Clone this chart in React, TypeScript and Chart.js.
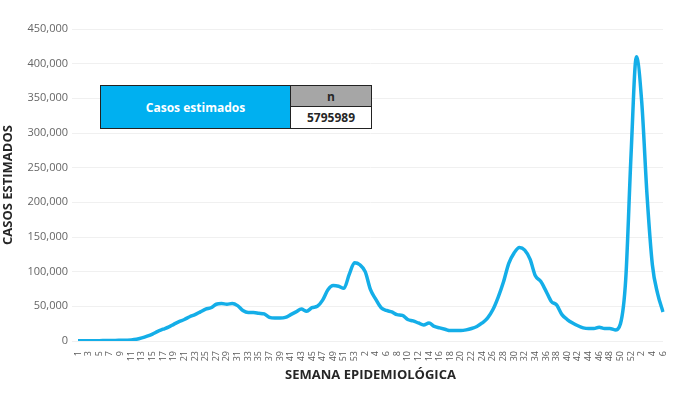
import React, { useEffect, useRef } from "react";
import { Chart, registerables } from "chart.js";

Chart.register(...registerables);

const weeks2020: string[] = Array.from({ length: 53 }, (_, i) => String(i + 1));
const weeks2021: string[] = Array.from({ length: 52 }, (_, i) => String(i + 1));
const weeks2022: string[] = ["1", "2", "3", "4", "5", "6"];
const weekLabels: string[] = [...weeks2020, ...weeks2021, ...weeks2022];

const cases2020: number[] = [
  500, 500, 500, 500, 500, 600, 700, 800, 1000, 1200,
  1500, 2500, 4500, 7000, 10000, 14000, 17000, 20000, 24000, 28000,
  31000, 35000, 38000, 42000, 46000, 48000, 53000, 54000, 53000, 54000,
  51000, 44000, 41000, 41000, 40000, 39000, 34000, 33000, 33000, 34000,
  38000, 42000, 46000, 43000, 48000, 50000, 59000, 74000, 80000, 79000,
  76000, 96000, 113000,
];
const cases2021: number[] = [
  110000, 100000, 74000, 60000, 48000, 44000, 42000, 38000, 37000, 31000,
  29000, 26000, 23000, 26000, 21000, 19000, 17000, 15000, 15000, 15000,
  16000, 18000, 21000, 26000, 33000, 45000, 63000, 85000, 112000, 127000,
  135000, 131000, 118000, 94000, 86000, 72000, 57000, 52000, 38000, 31000,
  26000, 22000, 19000, 18000, 18000, 20000, 18000, 18000, 16000, 25000,
  90000, 270000,
];
const cases2022: number[] = [410000, 345000, 210000, 110000, 68000, 42000];
const casesAll: number[] = [...cases2020, ...cases2021, ...cases2022];

const tableHeader = "Casos estimados";
const tableColHeader = "n";
const tableTotal = "5795989";

const FONT = "'Open Sans', sans-serif";

export default function App() {
  const canvasRef = useRef<HTMLCanvasElement | null>(null);

  useEffect(() => {
    document.body.style.margin = "0";
    const canvas = canvasRef.current;
    if (!canvas) return;
    const chart = new Chart(canvas, {
      type: "line",
      data: {
        labels: weekLabels,
        datasets: [
          {
            data: casesAll,
            borderColor: "#14AEE8",
            borderWidth: 3.5,
            pointRadius: 0,
            tension: 0.4,
            cubicInterpolationMode: "monotone",
            fill: false,
          },
        ],
      },
      options: {
        animation: false,
        responsive: false,
        maintainAspectRatio: false,
        layout: { padding: { left: 0, right: 37, top: 29, bottom: 24 } },
        plugins: { legend: { display: false }, tooltip: { enabled: false } },
        scales: {
          x: {
            grid: { display: false },
            border: { display: false },
            ticks: {
              autoSkip: false,
              maxRotation: 90,
              minRotation: 90,
              padding: 2,
              color: "#595959",
              font: { family: FONT, size: 9 },
              callback: (_v: any, i: number) => (i % 2 === 0 ? weekLabels[i] : ""),
            },
            title: {
              display: true,
              text: "SEMANA EPIDEMIOLÓGICA",
              color: "#262626",
              font: { family: FONT, size: 13, weight: "bold" },
              padding: { top: 0, bottom: 4 },
            },
            afterFit: (s: any) => {
              s.height = 46;
            },
          },
          y: {
            min: 0,
            max: 450000,
            grid: { color: "#f0f0f0", tickLength: 6, tickColor: "#f0f0f0" },
            border: { display: false },
            ticks: {
              stepSize: 50000,
              padding: 4,
              color: "#666666",
              font: { family: FONT, size: 11 },
              callback: (v: any) => Number(v).toLocaleString("en-US"),
            },
            title: {
              display: true,
              text: "CASOS ESTIMADOS",
              color: "#262626",
              font: { family: FONT, size: 13, weight: "bold" },
              padding: { top: 0, bottom: 0 },
            },
            afterFit: (s: any) => {
              s.width = 78;
            },
          },
        },
      },
    });
    return () => chart.destroy();
  }, []);

  const cell: React.CSSProperties = {
    position: "absolute",
    display: "flex",
    alignItems: "center",
    justifyContent: "center",
    fontFamily: FONT,
    fontWeight: 700,
    boxSizing: "border-box",
  };

  return (
    <div style={{ position: "relative", width: 700, height: 411, background: "#fff" }}>
      <canvas ref={canvasRef} width={700} height={411} />
      <div
        style={{
          position: "absolute",
          left: 100,
          top: 85,
          width: 272,
          height: 44,
          border: "1px solid #222",
          boxSizing: "border-box",
          background: "#fff",
        }}
      >
        <div
          style={{
            ...cell,
            left: 0,
            top: 0,
            width: 190,
            height: 42,
            background: "#00B0F0",
            color: "#fff",
            fontSize: 12,
            borderRight: "1px solid #222",
          }}
        >
          {tableHeader}
        </div>
        <div
          style={{
            ...cell,
            left: 190,
            top: 0,
            width: 80,
            height: 21,
            background: "#A6A6A6",
            color: "#262626",
            fontSize: 12,
            borderBottom: "1px solid #222",
          }}
        >
          {tableColHeader}
        </div>
        <div
          style={{
            ...cell,
            left: 190,
            top: 21,
            width: 80,
            height: 21,
            color: "#262626",
            fontSize: 12,
          }}
        >
          {tableTotal}
        </div>
      </div>
    </div>
  );
}
